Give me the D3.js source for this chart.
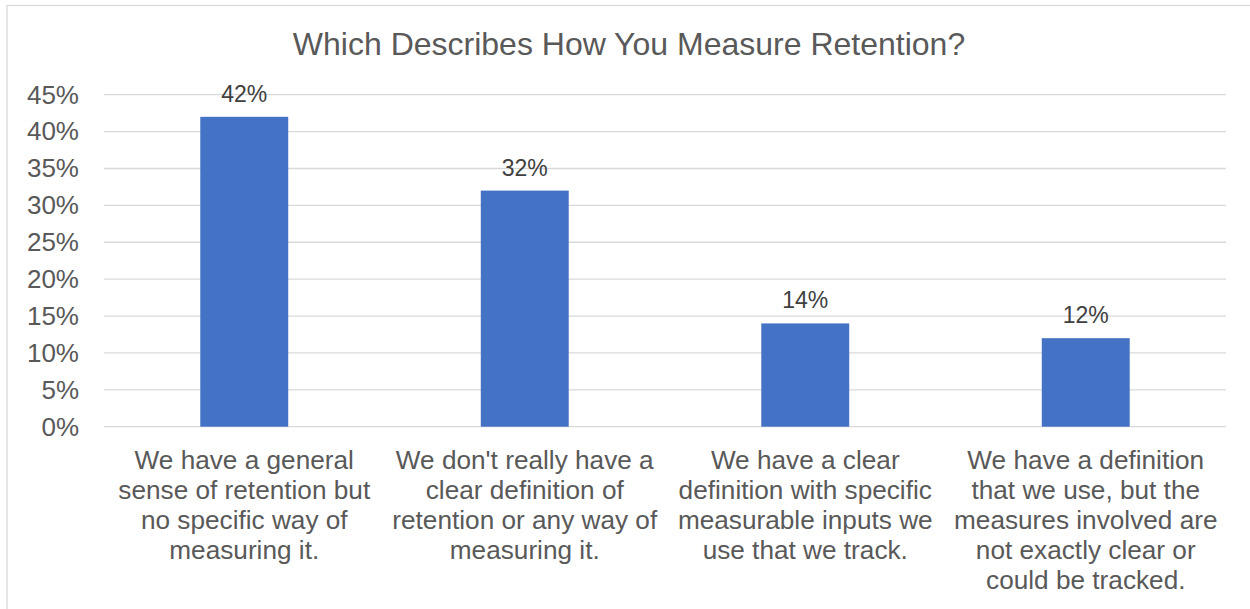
<!DOCTYPE html>
<html>
<head>
<meta charset="utf-8">
<script src="https://cdn.jsdelivr.net/npm/d3@7"></script>
<style>
  html, body { margin: 0; padding: 0; background: #fff; }
  svg { display: block; font-family: "Liberation Sans", Arial, sans-serif; }
</style>
</head>
<body>
<svg id="chart" width="1250" height="609"></svg>
<script>
// Survey answers, each split into the lines shown under the axis
const categories = [
  ["We have a general", "sense of retention but", "no specific way of", "measuring it."],
  ["We don't really have a", "clear definition of", "retention or any way of", "measuring it."],
  ["We have a clear", "definition with specific", "measurable inputs we", "use that we track."],
  ["We have a definition", "that we use, but the", "measures involved are", "not exactly clear or", "could be tracked."]
];
const shares = [42, 32, 14, 12];
const yTicks = [0, 5, 10, 15, 20, 25, 30, 35, 40, 45];
const title = "Which Describes How You Measure Retention?";

const svg = d3.select("#chart");
const W = 1250, H = 609;
const plot = { left: 104, right: 1226, top: 94.7, bottom: 426.7 };

// Chart frame
svg.append("rect")
  .attr("x", 7).attr("y", 5.5)
  .attr("width", W + 10).attr("height", H + 10)
  .attr("fill", "#fff").attr("stroke", "#d9d9d9").attr("stroke-width", 1.3);

const x = d3.scaleBand()
  .domain(d3.range(categories.length))
  .range([plot.left, plot.right])
  .padding(0);

const y = d3.scaleLinear()
  .domain([0, 45])
  .range([plot.bottom, plot.top]);

// Horizontal gridlines
svg.append("g")
  .selectAll("line")
  .data(yTicks)
  .join("line")
  .attr("x1", plot.left).attr("x2", plot.right)
  .attr("y1", d => y(d)).attr("y2", d => y(d))
  .attr("stroke", "#d9d9d9").attr("stroke-width", 1.3);

// Y axis labels
const yAxis = d3.axisLeft(y)
  .tickValues(yTicks)
  .tickFormat(d => d + "%")
  .tickSize(0)
  .tickPadding(25);
const yg = svg.append("g")
  .attr("transform", `translate(${plot.left},0)`)
  .call(yAxis);
yg.select(".domain").remove();
yg.selectAll("text")
  .attr("fill", "#595959")
  .style("font-size", "26px")
  .style("font-family", "'Liberation Sans', Arial, sans-serif");

// Bars (gap width ~219% of bar width)
const barW = x.bandwidth() / 3.19;
svg.append("g")
  .selectAll("rect")
  .data(shares)
  .join("rect")
  .attr("x", (d, i) => x(i) + (x.bandwidth() - barW) / 2)
  .attr("width", barW)
  .attr("y", d => y(d))
  .attr("height", d => y(0) - y(d))
  .attr("fill", "#4472c4");

// Value labels
svg.append("g")
  .selectAll("text")
  .data(shares)
  .join("text")
  .attr("x", (d, i) => x(i) + x.bandwidth() / 2)
  .attr("y", d => y(d) - 15)
  .attr("text-anchor", "middle")
  .attr("fill", "#404040")
  .style("font-size", "23px")
  .text(d => d + "%");

// Category labels
const catG = svg.append("g")
  .selectAll("text")
  .data(categories)
  .join("text")
  .attr("x", (d, i) => x(i) + x.bandwidth() / 2)
  .attr("y", 468.5)
  .attr("text-anchor", "middle")
  .attr("fill", "#595959")
  .style("font-size", "26.2px");
catG.selectAll("tspan")
  .data(d => d)
  .join("tspan")
  .attr("x", function () { return d3.select(this.parentNode).attr("x"); })
  .attr("dy", (d, i) => i === 0 ? 0 : 30)
  .text(d => d);

// Title
svg.append("text")
  .attr("x", 629)
  .attr("y", 55)
  .attr("text-anchor", "middle")
  .attr("fill", "#595959")
  .style("font-size", "32px")
  .text(title);
</script>
</body>
</html>
